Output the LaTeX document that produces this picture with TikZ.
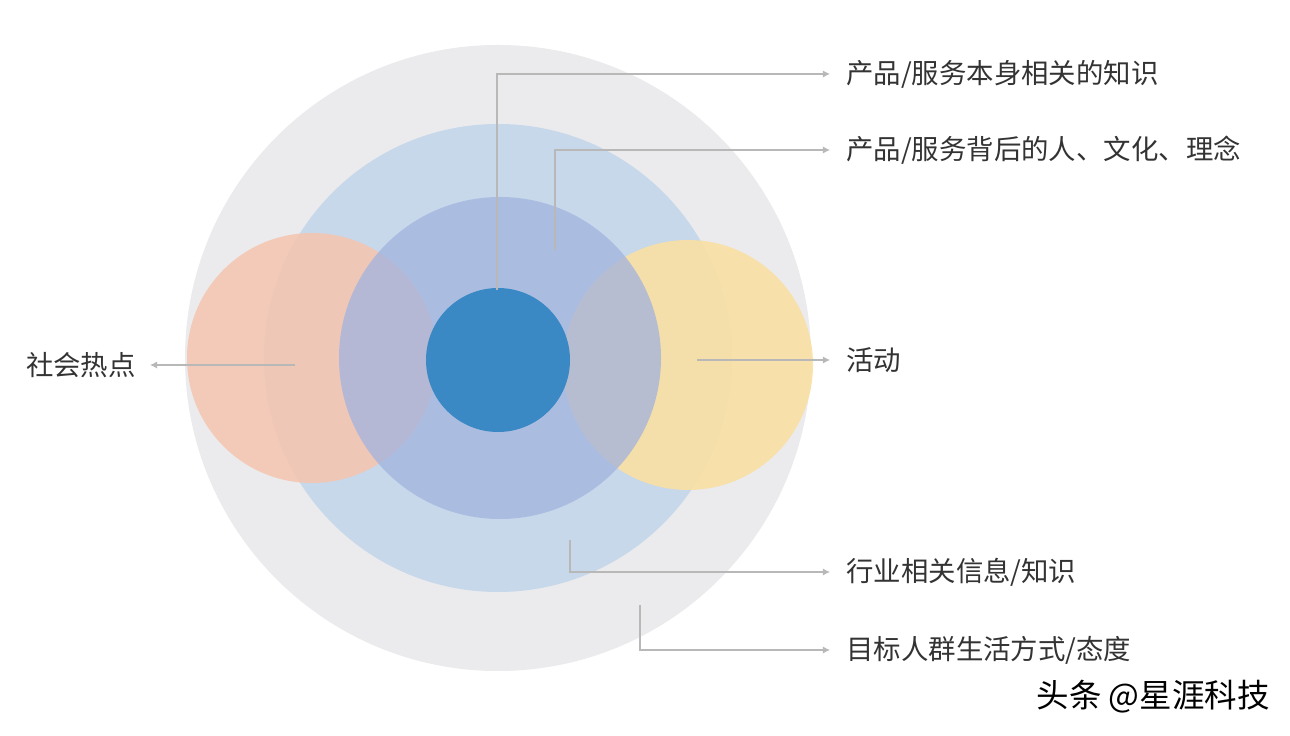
\documentclass[tikz,border=0pt]{standalone}
\usepackage{fontspec}
\setmainfont{Noto Sans CJK SC}
\usetikzlibrary{arrows.meta}
\definecolor{outerg}{HTML}{EBEBED}
\definecolor{lblue}{HTML}{C6D8EA}
\definecolor{mblue}{HTML}{A2B3DF}
\definecolor{dblue}{HTML}{3A88C4}
\definecolor{pinkc}{HTML}{F4C6B2}
\definecolor{yelc}{HTML}{F9DFA2}
\definecolor{linec}{HTML}{B8B8B8}
\definecolor{txt}{HTML}{333333}
\tikzset{
  lead/.style={draw=linec, line width=0.6pt, -{Latex[length=4pt,width=4pt]}},
  lbl/.style={anchor=west, text=txt, font=\fontsize{15.6pt}{17pt}\selectfont, inner sep=0pt}
}
\begin{document}
\begin{tikzpicture}[x=0.02cm,y=0.02cm]
\useasboundingbox (0,0) rectangle (1290,736);
\fill[white] (0,0) rectangle (1290,736);
\fill[outerg] (498,378) circle (313);
\fill[lblue] (498,378) circle (234);
\fill[pinkc, opacity=0.9] (312,378) circle (125);
\fill[yelc, opacity=0.9] (688,371) circle (125);
\fill[mblue, opacity=0.75] (500,378) circle (161);
\fill[dblue] (498,376) circle (72);
% coordinates
\coordinate (s1) at (497,446); \coordinate (b1) at (497,662); \coordinate (e1) at (830,662);
\coordinate (s2) at (555,486); \coordinate (b2) at (555,586); \coordinate (e2) at (830,586);
\coordinate (s3) at (295,371); \coordinate (e3) at (150,371);
\coordinate (s4) at (697,376); \coordinate (e4) at (830,376);
\coordinate (s5) at (570,196); \coordinate (b5) at (570,164); \coordinate (e5) at (830,164);
\coordinate (s6) at (640,131); \coordinate (b6) at (640,86); \coordinate (e6) at (830,86);
\draw[lead] (s1) -- (b1) -- (e1);
\draw[lead] (s2) -- (b2) -- (e2);
\draw[lead] (s3) -- (e3);
\draw[lead] (s4) -- (e4);
\draw[lead] (s5) -- (b5) -- (e5);
\draw[lead] (s6) -- (b6) -- (e6);
\node[lbl] (t1) at (846,662) {产品/服务本身相关的知识};
\node[lbl] (t2) at (846,586) {产品/服务背后的人、文化、理念};
\node[lbl, anchor=east] (t3) at (136,371) {社会热点};
\node[lbl] (t4) at (846,376) {活动};
\node[lbl] (t5) at (846,164) {行业相关信息/知识};
\node[lbl] (t6) at (846,86) {目标人群生活方式/态度};
\node[anchor=east, text=black, font=\fontsize{18.5pt}{20pt}\selectfont, inner sep=0pt] (wm) at (1270,39) {头条 @星涯科技};
\end{tikzpicture}
\end{document}
